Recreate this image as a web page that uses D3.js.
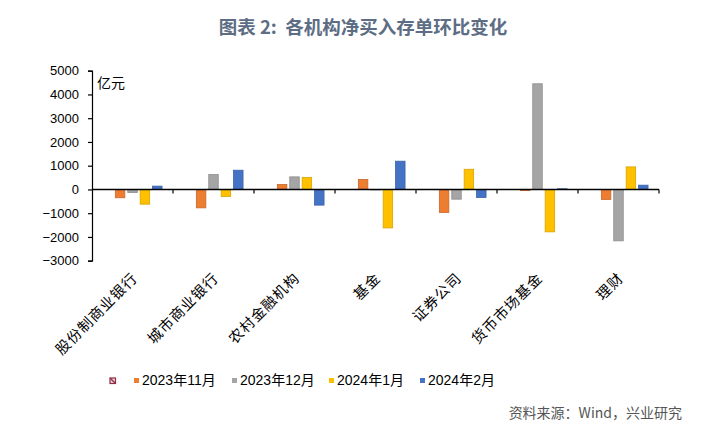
<!DOCTYPE html>
<html><head><meta charset="utf-8">
<script src="https://cdn.jsdelivr.net/npm/d3@7"></script>
<style>
html,body{margin:0;padding:0;background:#fff;}
svg{display:block;}
</style></head>
<body>
<svg id="chart" width="702" height="433"></svg>
<script>
const categories = ["股份制商业银行","城市商业银行","农村金融机构","基金","证券公司","货币市场基金","理财"];
const seriesNames = ["", "2023年11月", "2023年12月", "2024年1月", "2024年2月"];
const seriesColors = ["none", "#ED7D31", "#A5A5A5", "#FFC000", "#4472C4"];
const seriesStroke = ["none", "#C8682A", "#8E8E8E", "#D9A300", "#3A62A8"];
const blank = [null, null, null, null, null, null, null];
const nov2023 = [-350, -775, 210, 420, -970, -50, -420];
const dec2023 = [-130, 630, 530, -20, -410, 4450, -2165];
const jan2024 = [-620, -300, 500, -1620, 850, -1785, 950];
const feb2024 = [140, 810, -660, 1190, -340, 30, 180];
const yTicks = [-3000, -2000, -1000, 0, 1000, 2000, 3000, 4000, 5000];
const unitLabel = "亿元";
const titleText = "图表 2:\u00A0\u00A0各机构净买入存单环比变化";
const sourceText = "资料来源：Wind，兴业研究";

const seriesValues = [blank, nov2023, dec2023, jan2024, feb2024];

const svg = d3.select("#chart");
const pLeft = 92, pRight = 659, pTop = 70.7, pBottom = 260.7;

svg.append("text").attr("x", 363).attr("y", 34)
  .attr("text-anchor", "middle")
  .attr("font-family", "'Noto Sans CJK SC', 'Noto Sans', sans-serif")
  .attr("font-size", 18.5).attr("font-weight", 700)
  .attr("fill", "#5D6D84").text(titleText);

const y = d3.scaleLinear().domain([-3000, 5000]).range([pBottom, pTop]);
const x0 = d3.scaleBand().domain(categories).range([pLeft, pRight]).paddingInner(0).paddingOuter(0);
const x1 = d3.scaleBand().domain(d3.range(seriesNames.length)).range([0, x0.bandwidth()])
  .paddingInner(0.234).paddingOuter(0.883);

// y axis
const yAxis = d3.axisLeft(y).tickValues(yTicks).tickSize(4).tickPadding(9).tickFormat(d3.format("d"));
const gy = svg.append("g").attr("transform", `translate(${pLeft},0)`).call(yAxis);
gy.selectAll("path").attr("stroke", "#000").attr("stroke-width", 1.2);
gy.selectAll("line").attr("stroke", "#000").attr("stroke-width", 1.2);
gy.selectAll("text").attr("font-family", "'Liberation Sans', Arial, sans-serif")
  .attr("font-size", 13).attr("fill", "#000");

// bars
seriesValues.forEach((vals, si) => {
  if (si === 0) return;
  svg.append("g").selectAll("rect")
    .data(vals.map((v, i) => ({v, c: categories[i]})).filter(d => d.v !== null))
    .join("rect")
    .attr("x", d => x0(d.c) + x1(si))
    .attr("width", x1.bandwidth())
    .attr("y", d => y(Math.max(0, d.v)))
    .attr("height", d => Math.abs(y(d.v) - y(0)))
    .attr("fill", seriesColors[si])
    .attr("stroke", seriesStroke[si]).attr("stroke-width", 0.8);
});

// x axis at zero
const xAxisG = svg.append("g");
xAxisG.append("line").attr("x1", pLeft).attr("x2", pRight).attr("y1", y(0)).attr("y2", y(0))
  .attr("stroke", "#000").attr("stroke-width", 1.4);
const bounds = categories.map(c => x0(c)).concat([pRight]);
xAxisG.selectAll("line.tk").data(bounds.slice(1)).join("line").attr("class", "tk")
  .attr("x1", d => d).attr("x2", d => d).attr("y1", y(0)).attr("y2", y(0) + 4)
  .attr("stroke", "#000").attr("stroke-width", 1.2);

// category labels
svg.append("g").selectAll("text").data(categories).join("text")
  .attr("transform", d => `translate(${x0(d) + x0.bandwidth() / 2 + 6},${279}) rotate(-45)`)
  .attr("text-anchor", "end")
  .attr("font-family", "'Noto Sans CJK SC', serif")
  .attr("font-size", 14.5).attr("letter-spacing", 1).attr("fill", "#000")
  .text(d => d);

// unit label
svg.append("text").attr("x", 97).attr("y", 88)
  .attr("font-family", "'Noto Sans CJK SC', sans-serif")
  .attr("font-size", 14).attr("fill", "#000").text(unitLabel);

// legend
const legendX = [110, 134, 232, 329, 420];
const lg = svg.append("g");
seriesNames.forEach((name, i) => {
  const g = lg.append("g").attr("transform", `translate(${legendX[i]},378)`);
  if (i === 0) {
    g.append("rect").attr("x", 0).attr("y", 0).attr("width", 5.5).attr("height", 5.5)
      .attr("fill", "#F6D3D3").attr("stroke", "#8C2F4B").attr("stroke-width", 1.2);
    g.append("line").attr("x1", 0).attr("y1", 0).attr("x2", 5.5).attr("y2", 5.5)
      .attr("stroke", "#8C2F4B").attr("stroke-width", 1.2);
  } else {
    g.append("rect").attr("x", 0).attr("y", 0).attr("width", 5).attr("height", 5)
      .attr("fill", seriesColors[i]);
    g.append("text").attr("x", 8).attr("y", 7)
      .attr("font-family", "'Liberation Sans', 'Noto Sans CJK SC', sans-serif")
      .attr("font-size", 14).attr("fill", "#000").text(name);
  }
});

// source
svg.append("text").attr("x", 682).attr("y", 418).attr("text-anchor", "end")
  .attr("font-family", "'Noto Sans CJK SC', sans-serif")
  .attr("font-size", 14).attr("fill", "#555").text(sourceText);
</script>
</body></html>
